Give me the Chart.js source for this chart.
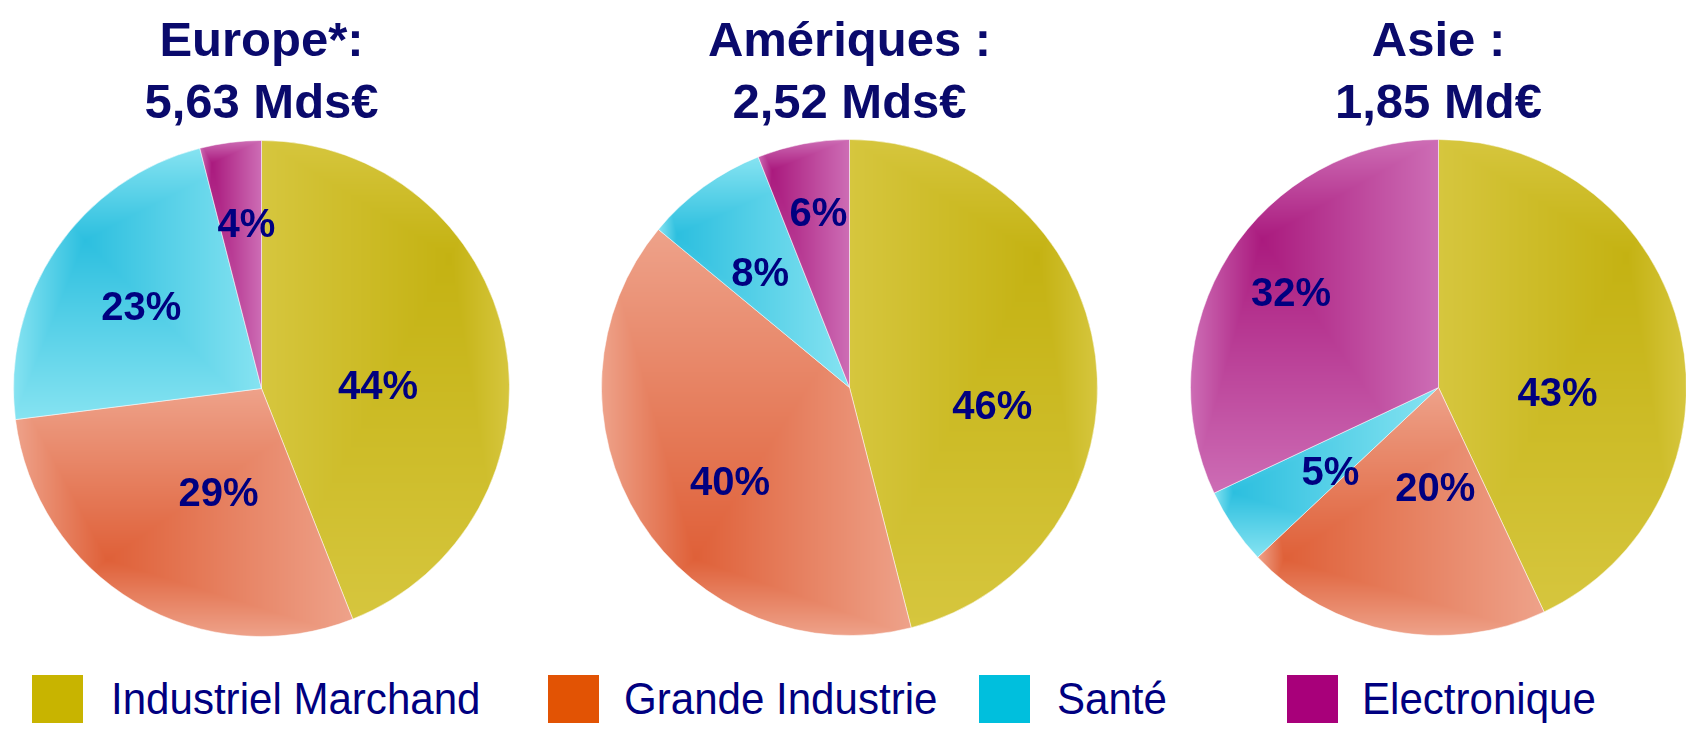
<!DOCTYPE html>
<html lang="fr">
<head>
<meta charset="utf-8">
<title>Répartition du chiffre d'affaires par zone</title>
<script src="https://cdn.jsdelivr.net/npm/chart.js@4/dist/chart.umd.min.js"></script>
<style>
  body { margin: 0; width: 1686px; height: 732px; overflow: hidden; position: relative; background: #fff;
         font-family: "Liberation Sans", Arial, sans-serif; }
  .title { position: absolute; top: 8px; width: 520px; text-align: center; font-weight: bold;
           font-size: 49px; line-height: 62px; color: #0a0a6c; white-space: nowrap; }
  canvas { position: absolute; }
  .key { position: absolute; top: 675px; width: 51px; height: 48px; }
  .keytext { position: absolute; top: 675px; font-size: 45px; line-height: 48px; color: #000080; white-space: nowrap;
             transform: scaleX(0.935); transform-origin: left center; }
</style>
</head>
<body>
<script>
// ---- data ----
const categories = ["Industriel Marchand", "Grande Industrie", "Santé", "Electronique"];
const regionNames = ["Europe*:", "Amériques :", "Asie :"];
const regionTotals = ["5,63 Mds€", "2,52 Mds€", "1,85 Md€"];
const europeShare = [44, 29, 23, 4];
const ameriquesShare = [46, 40, 8, 6];
const asieShare = [43, 20, 5, 32];

// ---- styling ----
const keyColors = ["#c8b400", "#e25304", "#00bfdd", "#a8007a"];
const shadeDark = ["#c4b212", "#df6038", "#2cbfdf", "#aa1a7e"];
const shadeLight = ["#d6c63e", "#eea28a", "#86e3f1", "#cd6db5"];
const shadeFocusDeg = [55, 222, 310, 310];   // where each slice's shading is darkest
const BORDER = 1;

// one pie per region: canvas box + label placement [angle offset deg, radius factor]
const pies = [
  { share: europeShare,    left: 13,   top: 140, size: 497,
    place: [[9, 0.47], [-8, 0.45], [0.5, 0.59], [2, 0.67]] },
  { share: ameriquesShare, left: 601,  top: 139, size: 497,
    place: [[14, 0.58], [-5.4, 0.61], [-1.6, 0.59], [0.8, 0.72]] },
  { share: asieShare,      left: 1190, top: 139, size: 497,
    place: [[14.7, 0.48], [-9, 0.40], [-3.4, 0.55], [0.7, 0.71]] },
];
const keyX = [32, 548, 979, 1287];
const keyTextX = [111, 624, 1057, 1362];

function hexRgb(h) {
  return [1, 3, 5].map((k) => parseInt(h.slice(k, k + 2), 16));
}

// rectangular "path" gradient per slice, rendered to an offscreen canvas and used as a pattern
function shadePattern(chart, i) {
  const area = chart.chartArea;
  if (!area) return keyColors[i];
  const cache = chart.$shade || (chart.$shade = {});
  if (cache[i]) return cache[i];

  const vals = chart.data.datasets[0].data;
  const total = vals.reduce((a, b) => a + b, 0);
  let acc = 0;
  for (let k = 0; k < i; k++) acc += vals[k];
  const a0 = (acc / total) * 360;
  const a1 = ((acc + vals[i]) / total) * 360;

  const cx = (area.left + area.right) / 2;
  const cy = (area.top + area.bottom) / 2;
  const r = (Math.min(area.width, area.height) - BORDER) / 2;
  const pt = (deg, rr) => [cx + rr * Math.sin((deg * Math.PI) / 180), cy - rr * Math.cos((deg * Math.PI) / 180)];

  const xs = [cx], ys = [cy];
  [a0, a1].forEach((d) => { const p = pt(d, r); xs.push(p[0]); ys.push(p[1]); });
  for (let d = 0; d <= 360; d += 90) {
    if (d > a0 && d < a1) { const p = pt(d, r); xs.push(p[0]); ys.push(p[1]); }
  }
  const minX = Math.min(...xs), maxX = Math.max(...xs);
  const minY = Math.min(...ys), maxY = Math.max(...ys);

  const pad = Math.min(2, (a1 - a0) / 4);
  const f = Math.min(Math.max(shadeFocusDeg[i], a0 + pad), a1 - pad);
  const [fx, fy] = pt(f, r * 0.93);

  const off = document.createElement("canvas");
  off.width = chart.width;
  off.height = chart.height;
  const octx = off.getContext("2d");
  const x0 = Math.max(0, Math.floor(minX) - 1), x1 = Math.min(off.width, Math.ceil(maxX) + 1);
  const y0 = Math.max(0, Math.floor(minY) - 1), y1 = Math.min(off.height, Math.ceil(maxY) + 1);
  const w = x1 - x0, h = y1 - y0;
  const img = octx.createImageData(w, h);
  const dk = hexRgb(shadeDark[i]), lt = hexRgb(shadeLight[i]);
  for (let y = 0; y < h; y++) {
    const py = y0 + y + 0.5;
    const ty = py < fy ? (fy - py) / Math.max(fy - minY, 1) : (py - fy) / Math.max(maxY - fy, 1);
    for (let x = 0; x < w; x++) {
      const px = x0 + x + 0.5;
      const tx = px < fx ? (fx - px) / Math.max(fx - minX, 1) : (px - fx) / Math.max(maxX - fx, 1);
      const t = Math.min(1, Math.max(tx, ty));
      const o = (y * w + x) * 4;
      img.data[o] = dk[0] + (lt[0] - dk[0]) * t;
      img.data[o + 1] = dk[1] + (lt[1] - dk[1]) * t;
      img.data[o + 2] = dk[2] + (lt[2] - dk[2]) * t;
      img.data[o + 3] = 255;
    }
  }
  octx.putImageData(img, x0, y0);
  cache[i] = chart.ctx.createPattern(off, "no-repeat");
  return cache[i];
}

// percentage written inside each slice
const pctLabels = {
  id: "pctLabels",
  afterDatasetsDraw(chart, args, opts) {
    const { ctx } = chart;
    const vals = chart.data.datasets[0].data;
    ctx.save();
    ctx.font = 'bold 40px "Liberation Sans", Arial, sans-serif';
    ctx.fillStyle = "#000080";
    ctx.textAlign = "center";
    ctx.textBaseline = "alphabetic";
    chart.getDatasetMeta(0).data.forEach((arc, i) => {
      const [dAng, rf] = opts.place[i];
      const mid = (arc.startAngle + arc.endAngle) / 2 + (dAng * Math.PI) / 180;
      const rr = arc.outerRadius * rf;
      ctx.fillText(vals[i] + "%", arc.x + rr * Math.cos(mid), arc.y + rr * Math.sin(mid) + 14.3);
    });
    ctx.restore();
  },
};

pies.forEach((p, n) => {
  const t = document.createElement("div");
  t.className = "title";
  t.style.left = (p.left + p.size / 2 - 260) + "px";
  t.innerHTML = regionNames[n] + "<br>" + regionTotals[n];
  document.body.appendChild(t);

  const cv = document.createElement("canvas");
  cv.width = p.size;
  cv.height = p.size;
  cv.style.left = p.left + "px";
  cv.style.top = p.top + "px";
  document.body.appendChild(cv);

  new Chart(cv, {
    type: "pie",
    data: {
      labels: categories,
      datasets: [{
        data: p.share,
        backgroundColor: (c) => (c.dataIndex === undefined ? keyColors[0] : shadePattern(c.chart, c.dataIndex)),
        borderColor: "rgba(255,255,255,0.5)",
        borderWidth: BORDER,
      }],
    },
    options: {
      responsive: false,
      animation: false,
      events: [],
      layout: { padding: 0 },
      plugins: { legend: { display: false }, tooltip: { enabled: false }, pctLabels: { place: p.place } },
    },
    plugins: [pctLabels],
  });
});

// shared legend along the bottom
categories.forEach((name, i) => {
  const sq = document.createElement("div");
  sq.className = "key";
  sq.style.left = keyX[i] + "px";
  sq.style.background = keyColors[i];
  document.body.appendChild(sq);
  const tx = document.createElement("div");
  tx.className = "keytext";
  tx.style.left = keyTextX[i] + "px";
  tx.textContent = name;
  document.body.appendChild(tx);
});
</script>
</body>
</html>
